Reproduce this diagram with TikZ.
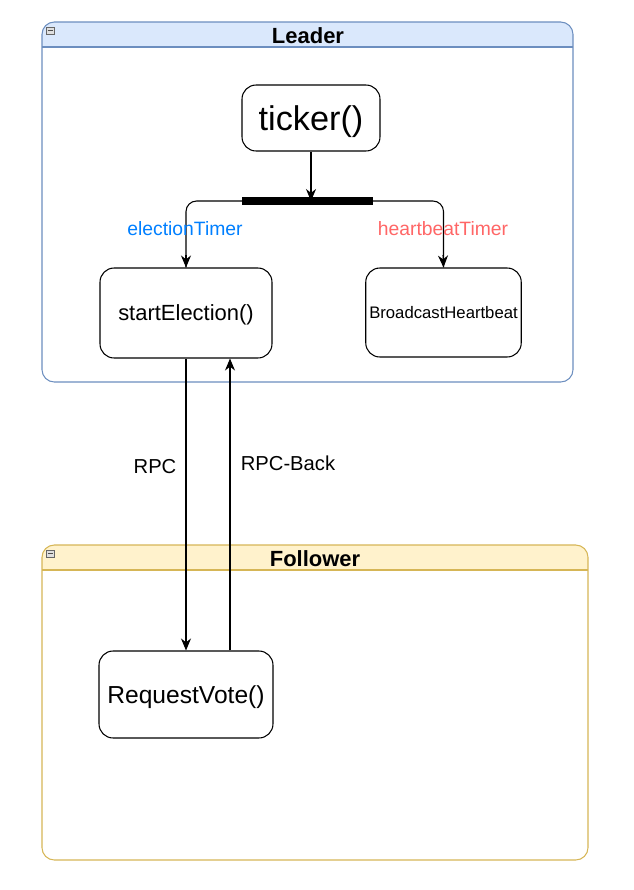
\documentclass[tikz,border=0pt]{standalone}
\usepackage{fontspec}
\setmainfont{Liberation Sans}
\usepackage{tikz}
\usetikzlibrary{arrows.meta,positioning,calc}
\definecolor{leaderfill}{RGB}{218,232,252}
\definecolor{leaderdraw}{RGB}{108,142,191}
\definecolor{followfill}{RGB}{255,242,204}
\definecolor{followdraw}{RGB}{214,182,86}
\definecolor{timerblue}{RGB}{0,127,255}
\definecolor{timerred}{RGB}{255,102,102}

\begin{document}
\begin{tikzpicture}[
  x=0.02cm, y=-0.02cm,
  funcbox/.style={
    rectangle, rounded corners=8pt,
    draw=black, fill=white, line width=0.6pt,
    align=center, inner sep=2pt, text depth=0pt
  },
  headtext/.style={font=\fontsize{12.5}{14}\selectfont\bfseries},
  lanebox/.style={rounded corners=7pt, line width=0.6pt},
  minusicon/.style={draw=gray!80!black, fill=gray!25, line width=0.3pt},
  arr/.style={-{Stealth[length=2.4mm,width=2mm]}, line width=0.6pt, color=black},
  lbl/.style={font=\fontsize{11.5}{13}\selectfont, align=center},
  timerlbl/.style={font=\fontsize{11}{13}\selectfont, inner sep=1pt}
]
\useasboundingbox (0,0) rectangle (633,890);

% Leader lane
\begin{scope}
  \clip[rounded corners=7pt] (42,22) rectangle (573,382);
  \fill[leaderfill] (42,22) rectangle (573,47);
\end{scope}
\draw[leaderdraw, line width=0.6pt] (42,47) -- (573,47);
\draw[lanebox, draw=leaderdraw] (42,22) rectangle (573,382);
\draw[minusicon] (46,27) rectangle (54,34);
\draw[gray!60!black, line width=0.3pt] (47.5,30.5) -- (52.5,30.5);
\node[headtext] (leaderhead) at (308,36) {Leader};

% Follower lane
\begin{scope}
  \clip[rounded corners=7pt] (42,545) rectangle (588,860);
  \fill[followfill] (42,545) rectangle (588,570);
\end{scope}
\draw[followdraw, line width=0.6pt] (42,570) -- (588,570);
\draw[lanebox, draw=followdraw] (42,545) rectangle (588,860);
\draw[minusicon] (46,550) rectangle (54,557);
\draw[gray!60!black, line width=0.3pt] (47.5,553.5) -- (52.5,553.5);
\node[headtext] (followhead) at (315,559) {Follower};

% functions
\node[funcbox, minimum width=2.76cm, minimum height=1.32cm,
      font=\fontsize{19.5}{22}\selectfont] (ticker) at (311,118) {ticker()};
\node[funcbox, minimum width=3.44cm, minimum height=1.8cm,
      font=\fontsize{12.5}{14}\selectfont] (start) at (186,313) {startElection()};
\node[funcbox, minimum width=3.06cm, minimum height=1.78cm,
      font=\fontsize{9.5}{11}\selectfont] (bcast) at (443.5,312.5) {BroadcastHeartbeat};
\node[funcbox, minimum width=3.48cm, minimum height=1.74cm,
      font=\fontsize{14}{16}\selectfont] (vote) at (186,694.5) {RequestVote()};

% fork bar
\coordinate (barL) at (242,201);
\coordinate (barR) at (373,201);
\draw[arr] (ticker.south) -- ($(barL)!(ticker.south)!(barR)$);
\draw[line width=0.6pt, rounded corners=6pt] (barL) -| (start.north);
\draw[line width=0.6pt, rounded corners=6pt] (barR) -| (bcast.north);
\draw[line width=4pt] (barL) -- (barR);
\draw[arr] (186,255) -- (start.north);
\draw[arr] (443,255) -- (bcast.north);
\node[timerlbl, text=timerblue] (etimer) at (185,229) {electionTimer};
\node[timerlbl, text=timerred] (htimer) at (443,229) {heartbeatTimer};

% RPC
\draw[arr] (start.south) -- (vote.north);
\draw[arr] (vote.north -| 230,0) -- (start.south -| 230,0);
\node[lbl] (rpc) at (155,467) {RPC};
\node[lbl] (rpcback) at (288,463) {RPC-Back};

\end{tikzpicture}
\end{document}
